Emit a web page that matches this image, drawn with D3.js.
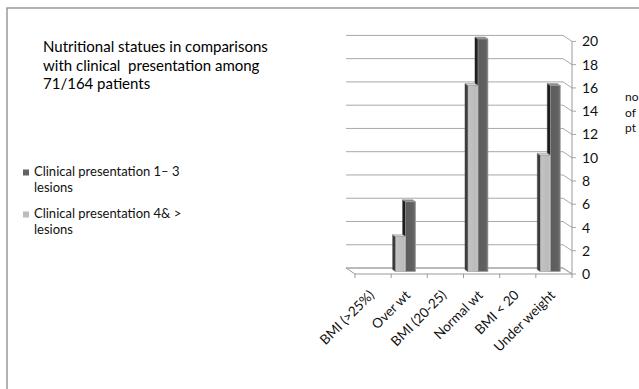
<!DOCTYPE html>
<html>
<head>
<meta charset="utf-8">
<script src="https://cdn.jsdelivr.net/npm/d3@7"></script>
<style>
  html, body { margin: 0; padding: 0; background: #fff; }
  svg { display: block; font-family: Lato, "Open Sans", sans-serif; }
</style>
</head>
<body>
<svg id="chart" width="639" height="389"></svg>
<script>
// Nutritional status vs. number of lesions
const categories = ["BMI (>25%)", "Over wt", "BMI (20-25)", "Normal wt", "BMI < 20", "Under weight"];
const lesions1to3 = [0, 6, 0, 20, 0, 16];
const lesions4plus = [0, 3, 0, 16, 0, 10];
const yTicks = [0, 2, 4, 6, 8, 10, 12, 14, 16, 18, 20];
const seriesNames = ["Clinical presentation 1\u2013 3", "Clinical presentation 4& >"];
const titleLines = ["Nutritional statues in comparisons", "with clinical  presentation among", "71/164 patients"];
const axisTitle = ["no", "of", "pt"];

const svg = d3.select("#chart");

// outer frame
svg.append("rect")
  .attr("x", 7).attr("y", 8).attr("width", 700).attr("height", 500)
  .attr("fill", "none").attr("stroke", "#8a8a8a").attr("stroke-width", 1.3);

// front plane scales; depth d in [0 (front) .. 1 (back)]
const x = d3.scaleBand().domain(categories).range([355, 572]);
const y = d3.scaleLinear().domain([0, 20]).range([274, 41.4]);
const DX = 9, DY = 6;
const proj = (xf, v, d) => [xf - DX * d, y(v) - DY * d];
const poly = pts => "M" + pts.map(p => p.join(",")).join("L") + "Z";

const defs = svg.append("defs");
const grad = (id, stops) => {
  const g = defs.append("linearGradient").attr("id", id).attr("x1", 0).attr("x2", 1).attr("y1", 0).attr("y2", 0);
  stops.forEach(([o, c]) => g.append("stop").attr("offset", o).attr("stop-color", c));
};
grad("lightFront", [[0, "#c4c4c4"], [0.8, "#bababa"], [1, "#d0d0d0"]]);
grad("darkFront", [[0, "#5c5c5c"], [0.75, "#616161"], [1, "#7a7a7a"]]);

const plot = svg.append("g");

// floor
plot.append("path")
  .attr("d", poly([proj(355, 0, 0), proj(572, 0, 0), proj(572, 0, 1), proj(355, 0, 1)]))
  .attr("fill", "#fff").attr("stroke", "#9a9a9a").attr("stroke-width", 1);

// back-wall gridlines bending onto the value axis
yTicks.forEach(v => {
  const a = proj(355, v, 1), b = proj(572, v, 1), c = proj(572, v, 0);
  plot.append("path")
    .attr("d", `M${a}L${b}L${c}L${c[0] + 4},${c[1]}`)
    .attr("fill", "none").attr("stroke", "#a8a8a8").attr("stroke-width", 1);
});

// value axis line
plot.append("line")
  .attr("x1", 572).attr("x2", 572).attr("y1", y(0)).attr("y2", y(20))
  .attr("stroke", "#9a9a9a").attr("stroke-width", 1);

// category ticks along the front edge of the floor
const edges = categories.map(c => x(c)).concat([572]);
plot.selectAll(".ctick").data(edges).join("line")
  .attr("x1", d => d).attr("x2", d => d)
  .attr("y1", y(0)).attr("y2", y(0) + 4)
  .attr("stroke", "#9a9a9a");

// value labels
svg.append("g").selectAll("text").data(yTicks).join("text")
  .attr("x", 582).attr("y", v => y(v)).attr("dy", "0.36em")
  .attr("font-size", 14).attr("fill", "#111")
  .text(v => v);

// 3D columns: light (4& >) on the left, dark (1–3) on the right
const barW = 10;
const dF = 0.4, dB = 0.73;
const styles = [
  { front: "url(#lightFront)", side: "#3c3c3c", top: "#d6d6d6" },
  { front: "url(#darkFront)", side: "#1e1e1e", top: "#8a8a8a" }
];
const barG = plot.append("g");
categories.forEach((c, i) => {
  const x0 = x(c) + (x.bandwidth() - 2 * barW) / 2;
  const grp = [lesions4plus[i], lesions1to3[i]]
    .map((v, s) => ({ x0: x0 + s * barW, x1: x0 + (s + 1) * barW, v, s }))
    .filter(b => b.v > 0)
    .sort((a, b) => b.s - a.s); // dark first, light covers its hidden side
  grp.forEach(b => {
    const st = styles[b.s];
    const g = barG.append("g");
    g.append("path")
      .attr("d", poly([proj(b.x0, 0, dF), proj(b.x0, b.v, dF), proj(b.x0, b.v, dB), proj(b.x0, 0, dB)]))
      .attr("fill", st.side).attr("stroke", st.side).attr("stroke-width", 0.5);
    g.append("path")
      .attr("d", poly([proj(b.x0, b.v, dF), proj(b.x1, b.v, dF), proj(b.x1, b.v, dB), proj(b.x0, b.v, dB)]))
      .attr("fill", st.top).attr("stroke", "#9a9a9a").attr("stroke-width", 0.6);
    const p = proj(b.x0, b.v, dF), q = proj(b.x1, 0, dF);
    g.append("rect")
      .attr("x", p[0]).attr("y", p[1]).attr("width", q[0] - p[0]).attr("height", q[1] - p[1])
      .attr("fill", st.front).attr("stroke", "#a0a0a0").attr("stroke-width", 0.6);
  });
});

// category labels
svg.append("g").selectAll("text").data(categories).join("text")
  .attr("transform", c => `translate(${x(c) + x.bandwidth() / 2 + 2},${296}) rotate(-45)`)
  .attr("text-anchor", "end")
  .attr("font-size", 13.5).attr("fill", "#111")
  .text(c => c);

// title
svg.append("g").selectAll("text").data(titleLines).join("text")
  .attr("x", 43).attr("y", (d, i) => 52 + i * 18.7)
  .attr("font-size", 15).attr("fill", "#000")
  .attr("xml:space", "preserve")
  .text(d => d);

// legend
const legend = svg.append("g");
[[seriesNames[0], "#636363", 175.5], [seriesNames[1], "#bcbcbc", 217.5]].forEach(([name, col, by]) => {
  legend.append("rect").attr("x", 23).attr("y", by - 6).attr("width", 6).attr("height", 6).attr("fill", col);
  legend.append("text").attr("x", 34).attr("y", by).attr("font-size", 13).attr("fill", "#111").text(name);
  legend.append("text").attr("x", 34).attr("y", by + 16).attr("font-size", 13).attr("fill", "#111").text("lesions");
});

// value axis title, running past the right edge
svg.append("g").selectAll("text").data(axisTitle).join("text")
  .attr("x", 625).attr("y", (d, i) => 101 + i * 15.5)
  .attr("font-size", 12).attr("fill", "#111")
  .text(d => d);
</script>
</body>
</html>
